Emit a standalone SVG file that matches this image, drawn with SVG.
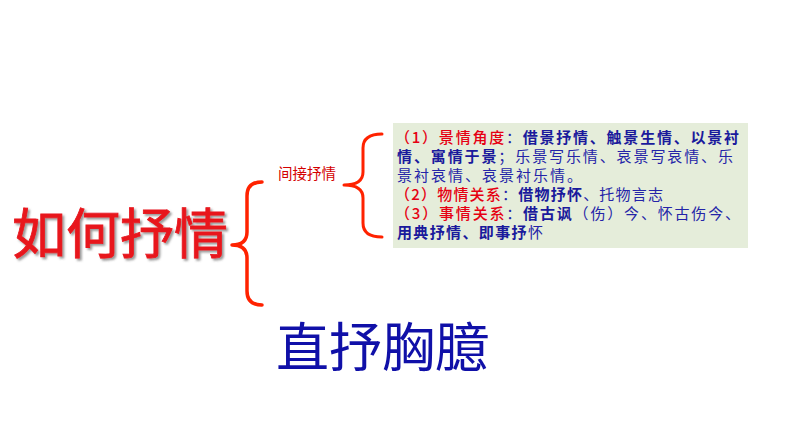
<svg xmlns="http://www.w3.org/2000/svg" width="794" height="447" viewBox="0 0 794 447">
  <defs>
    <style>
      .cjk { font-family: "Noto Sans CJK SC", "Noto Sans", sans-serif; }
      .brace { fill: none; stroke: #ff2200; stroke-linecap: round; stroke-linejoin: round; }
      .lbl { fill: #e60012; font-weight: 500; }
      .b { fill: #1a1a9c; font-weight: bold; }
      .r { fill: #2424a8; }
      .line { font-size: 15px; }
    </style>
    <filter id="shadow" x="-10%" y="-10%" width="130%" height="130%">
      <feDropShadow dx="2" dy="2" stdDeviation="1" flood-color="#555555" flood-opacity="0.6"/>
    </filter>
  </defs>
  <rect width="794" height="447" fill="#ffffff"/>

  <g id="connectors">
    <path class="brace" stroke-width="3.5" d="M262,182 Q247,182 247,196 L247,232 Q247,245 232,245 Q247,245 247,258 L247,291 Q247,305 262,305"/>
    <path class="brace" stroke-width="3" d="M382,134 Q363,134 363,148 L363,172 Q363,185 344,185 Q363,185 363,198 L363,223 Q363,237 382,237"/>
  </g>

  <g id="node-root">
    <text class="cjk" x="12" y="254" font-size="54" fill="#e8141c" stroke="#e8141c" stroke-width="0.8" filter="url(#shadow)">如何抒情</text>
  </g>

  <g id="node-indirect">
    <text class="cjk" x="278" y="179" font-size="14.5" fill="#d40000">间接抒情</text>
  </g>

  <g id="node-detail">
    <rect x="393" y="123" width="355" height="125" fill="#e5edda"/>
    <text class="cjk line" x="395" y="142.5" textLength="344" lengthAdjust="spacing"><tspan class="lbl">（1）景情角度</tspan><tspan class="r">：</tspan><tspan class="b">借景抒情、触景生情、以景衬</tspan></text>
    <text class="cjk line" x="397" y="161.5" textLength="336" lengthAdjust="spacing"><tspan class="b">情、寓情于景</tspan><tspan class="r">；乐景写乐情、哀景写哀情、乐</tspan></text>
    <text class="cjk line" x="397" y="180.5" textLength="185" lengthAdjust="spacing"><tspan class="r">景衬哀情、哀景衬乐情。</tspan></text>
    <text class="cjk line" x="395" y="199.5" textLength="268" lengthAdjust="spacing"><tspan class="lbl">（2）物情关系</tspan><tspan class="r">：</tspan><tspan class="b">借物抒怀</tspan><tspan class="r">、托物言志</tspan></text>
    <text class="cjk line" x="395" y="218.5" textLength="345" lengthAdjust="spacing"><tspan class="lbl">（3）事情关系</tspan><tspan class="r">：</tspan><tspan class="b">借古讽</tspan><tspan class="r">（伤）今、怀古伤今、</tspan></text>
    <text class="cjk line" x="397" y="237.5" textLength="146" lengthAdjust="spacing"><tspan class="b">用典抒情、即事抒</tspan><tspan class="r">怀</tspan></text>
  </g>

  <g id="node-direct">
    <text class="cjk" x="276" y="367" font-size="53" fill="#1010a8">直抒胸臆</text>
  </g>
</svg>
